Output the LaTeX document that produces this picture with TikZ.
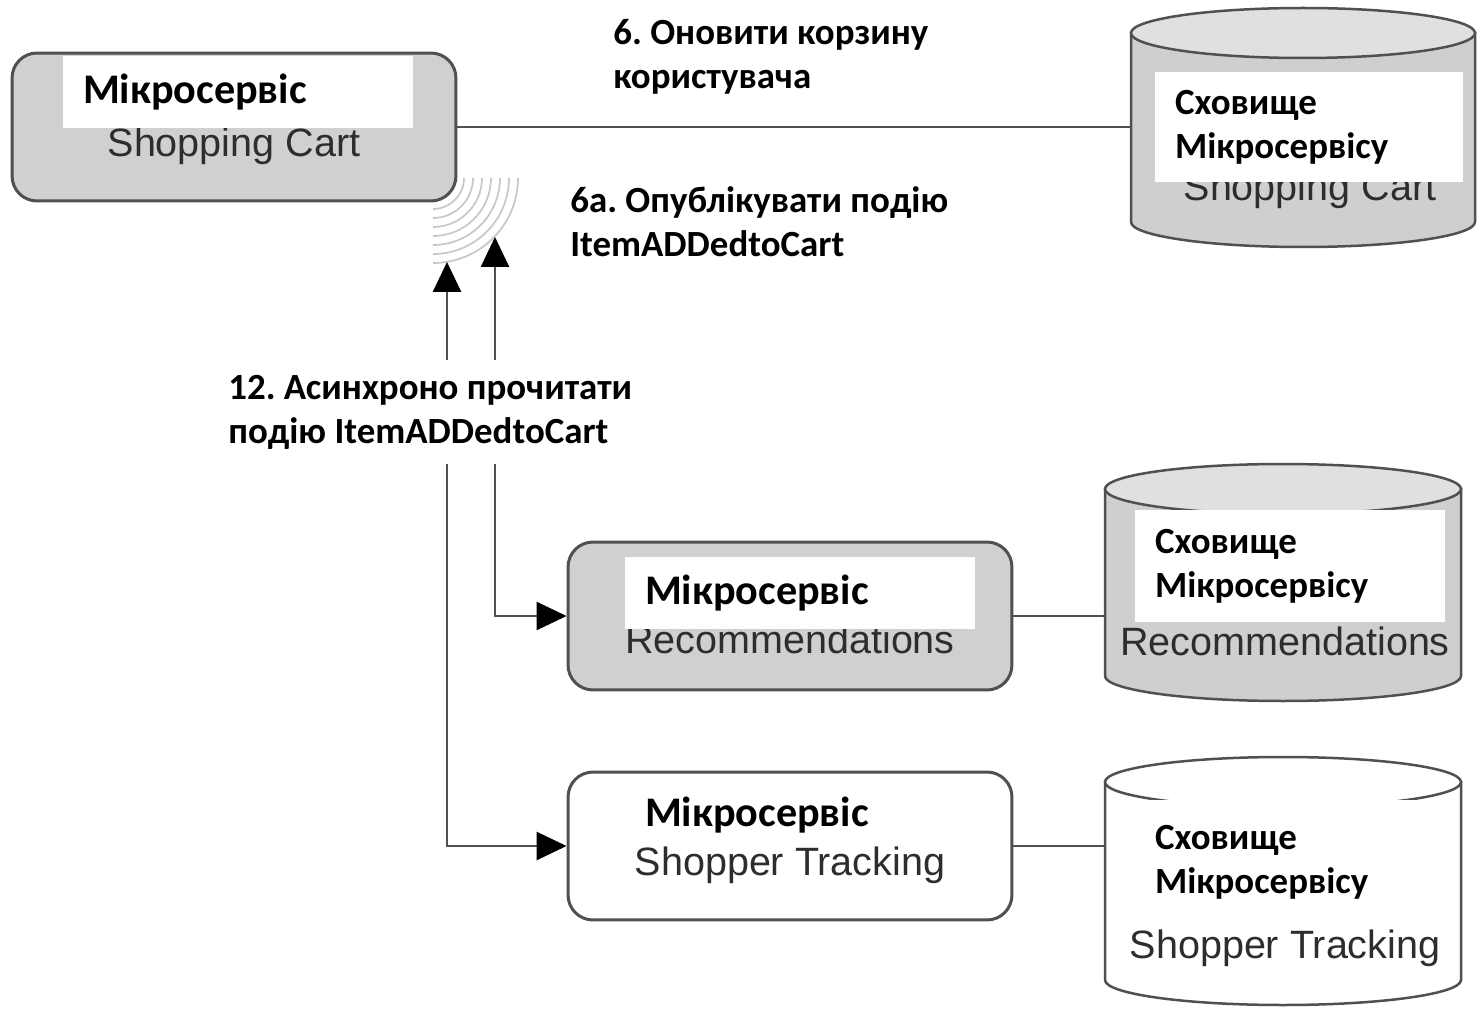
\documentclass[tikz,border=0pt]{standalone}
\usepackage{fontspec}
\setmainfont{Carlito}
\newfontfamily\namefont{Liberation Sans}
\usetikzlibrary{arrows.meta}
\frenchspacing

\definecolor{boxgray}{RGB}{208,208,208}
\definecolor{drumgray}{RGB}{207,207,207}
\definecolor{drumtop}{RGB}{224,224,224}
\definecolor{edgegray}{RGB}{80,80,80}
\definecolor{wavegray}{RGB}{200,200,200}
\definecolor{namegray}{RGB}{45,45,45}

\tikzset{
  svcbox/.style={draw=edgegray, line width=0.06cm, rounded corners=0.5cm,
    minimum width=8.88cm, minimum height=2.96cm, inner sep=0pt},
  drum/.style={draw=edgegray, line width=0.05cm},
  conn/.style={draw=edgegray, line width=0.055cm},
  duo/.style={arrows={Triangle[length=0.6cm,width=0.56cm,color=black]-Triangle[length=0.6cm,width=0.56cm,color=black]}},
  tagbox/.style={fill=white, inner ysep=0pt, inner xsep=0.4cm, align=left,
    font=\bfseries\fontsize{21}{25}\selectfont},
  svctag/.style={tagbox, text width=6.2cm, minimum height=1.44cm,
    font=\bfseries\fontsize{24}{28}\selectfont},
  steplbl/.style={anchor=west, align=left, inner sep=0pt,
    font=\bfseries\fontsize{21}{25}\selectfont},
  nametext/.style={text=namegray, inner sep=0pt, font=\namefont\fontsize{22.5}{26}\selectfont},
}

% database drum: name, centre x, x radius, top y, bottom y, body fill, top fill
\newcommand{\dbdrum}[7]{%
  \filldraw[drum, fill=#6] (#2-#3,#4) -- (#2-#3,#5)
    arc[start angle=180, end angle=0, x radius=#3, y radius=25] -- (#2+#3,#4) -- cycle;
  \filldraw[drum, fill=#7] (#2,#4) ellipse[x radius=#3, y radius=25];
  \coordinate (#1) at (#2-#3,#4);
}

\begin{document}
\begin{tikzpicture}[x=0.02cm, y=-0.02cm]
\useasboundingbox (0,0) rectangle (1478,1010);

% signal waves
\foreach \r in {22,31,...,85}
  \draw[wavegray, line width=0.035cm] (433+\r,178) arc[start angle=0, end angle=90, radius=\r];

% services
\node[svcbox, fill=boxgray] (cart) at (234,127) {};
\node[svcbox, fill=boxgray] (rec) at (790,616) {};
\node[svcbox, fill=white] (shop) at (790,846) {};

% stores
\dbdrum{cartdb}{1303}{172}{33}{222}{drumgray}{drumtop}
\dbdrum{recdb}{1283}{178}{489}{676}{drumgray}{drumtop}
\dbdrum{shopdb}{1283}{178}{782}{980}{white}{white}

% connectors
\coordinate (tipA) at (447,262);
\coordinate (tipB) at (495,237);
\draw[conn] (cart.east) -- (cart.east -| cartdb);
\draw[conn] (rec.east) -- (rec.east -| recdb);
\draw[conn] (shop.east) -- (shop.east -| shopdb);
\draw[conn, duo] (tipA) |- (shop.west);
\draw[conn, duo] (tipB) |- (rec.west);

% english names
\node[nametext] (cartname) at (234,146) {Shopping Cart};
\node[nametext] (recname) at (790,639) {Recommendations};
\node[nametext] (shopname) at (790,865) {Shopper Tracking};
\node[nametext] (cartdbname) at (1310,190) {Shopping Cart};
\node[nametext] (recdbname) at (1285,641) {Recommendations};
\node[nametext] (shopdbname) at (1285,948) {Shopper Tracking};

% ukrainian tags
\node[svctag] (carttag) at (238,92) {Мікросервіс};
\node[svctag] (rectag) at (800,593) {Мікросервіс};
\node[svctag, fill=none] (shoptag) at (800,815) {Мікросервіс};
\node[tagbox, text width=5.36cm, minimum height=2.2cm] (cartdbtag) at (1309,127) {Сховище\\Мікросервісу};
\node[tagbox, text width=5.4cm, minimum height=2.24cm] (recdbtag) at (1290,566) {Сховище\\Мікросервісу};
\node[tagbox, text width=5.4cm, minimum height=2.5cm] (shopdbtag) at (1290,862) {Сховище\\Мікросервісу};

% step labels
\node[steplbl] (updlbl) at (613,57) {6. Оновити корзину\\користувача};
\node[steplbl] (publbl) at (570,222) {6a. Опублікувати подію\\ItemADDedtoCart};
\node[steplbl, fill=white, inner ysep=0.3cm] (readlbl) at (228,412) {12. Асинхроно прочитати\\подію ItemADDedtoCart};
\end{tikzpicture}
\end{document}
